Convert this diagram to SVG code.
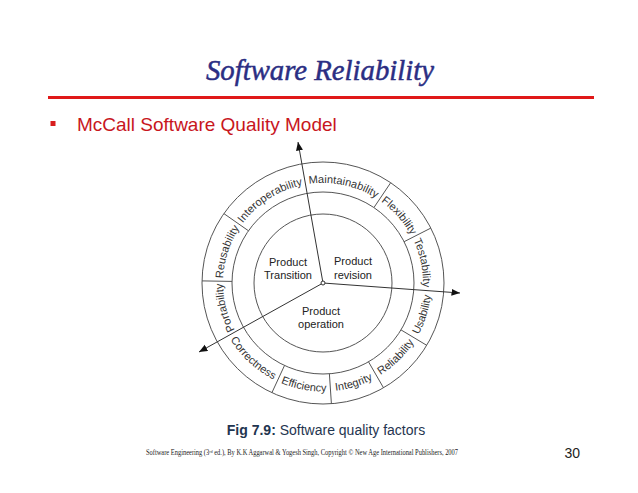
<svg xmlns="http://www.w3.org/2000/svg" width="638" height="493" viewBox="0 0 638 493">
<style>
.ring{fill:none;stroke:#555;stroke-width:1}
.div{stroke:#555;stroke-width:1}
.f{font-family:"Liberation Sans",Arial,sans-serif;font-size:11px;fill:#333}
.sec{font-family:"Liberation Sans",Arial,sans-serif;font-size:11px;fill:#222;text-anchor:middle}
.conn{stroke:#333;stroke-width:1;fill:none;marker-end:url(#ah)}
.foot{font-family:"Liberation Serif","DejaVu Serif",serif;font-size:7.3px;fill:#222}
</style>
<defs>
<marker id="ah" markerUnits="userSpaceOnUse" markerWidth="9" markerHeight="8" refX="8.5" refY="3.5" orient="auto">
<path d="M0,0 L8.5,3.5 L0,7 z" fill="#111"/>
</marker>
<path id="p-port" d="M235.8,331.9 A100,100 0 0 1 223.0,281.3"/>
<path id="p-reus" d="M223.0,281.3 A100,100 0 0 1 241.1,225.6"/>
<path id="p-inter" d="M241.1,225.6 A100,100 0 0 1 305.6,184.5"/>
<path id="p-maint" d="M305.6,184.5 A100,100 0 0 1 378.9,200.1"/>
<path id="p-flex" d="M378.9,200.1 A100,100 0 0 1 412.1,237.6"/>
<path id="p-test" d="M412.1,237.6 A100,100 0 0 1 422.8,290.0"/>
<path id="p-usab" d="M416.0,338.9 A108.5,108.5 0 0 0 431.2,290.6"/>
<path id="p-reli" d="M377.3,377.0 A108.5,108.5 0 0 0 416.0,338.9"/>
<path id="p-integ" d="M330.6,391.2 A108.5,108.5 0 0 0 377.3,377.0"/>
<path id="p-effic" d="M277.1,381.3 A108.5,108.5 0 0 0 330.6,391.2"/>
<path id="p-corr" d="M228.4,336.1 A108.5,108.5 0 0 0 277.1,381.3"/>
</defs>
<rect width="638" height="493" fill="#fff"/>

<g id="title">
<text x="320" y="80" text-anchor="middle" font-family="Liberation Serif, serif" font-style="italic" font-size="30" fill="#2B2E83" stroke="#2B2E83" stroke-width="0.5" textLength="228" lengthAdjust="spacingAndGlyphs">Software Reliability</text>
<line x1="48" y1="97.5" x2="594" y2="97.5" stroke="#E01818" stroke-width="3"/>
</g>

<g id="bullet">
<rect x="50.5" y="121" width="5" height="5" fill="#D81E1E"/>
<text x="77" y="130.5" font-family="Liberation Sans, Arial, sans-serif" font-size="19" fill="#C8161D">McCall Software Quality Model</text>
</g>

<g id="rings">
<circle class="ring" cx="323" cy="283" r="121"/>
<circle class="ring" cx="323" cy="283" r="91"/>
<circle class="ring" cx="323" cy="283" r="69"/>
</g>

<g id="dividers">
<line class="div" x1="373.9" y1="207.6" x2="390.7" y2="182.7"/>
<line class="div" x1="404.1" y1="241.7" x2="430.8" y2="228.1"/>
<line class="div" x1="401.0" y1="329.9" x2="426.7" y2="345.3"/>
<line class="div" x1="368.5" y1="361.8" x2="383.5" y2="387.8"/>
<line class="div" x1="329.4" y1="373.8" x2="331.4" y2="403.7"/>
<line class="div" x1="284.5" y1="365.5" x2="271.9" y2="392.7"/>
<line class="div" x1="232.0" y1="281.4" x2="202.0" y2="280.9"/>
<line class="div" x1="248.5" y1="230.8" x2="223.9" y2="213.6"/>
</g>

<g id="connectors">
<line class="conn" x1="323" y1="283" x2="298" y2="142"/>
<line class="conn" x1="323" y1="283" x2="460" y2="293"/>
<line class="conn" x1="323" y1="283" x2="199" y2="352"/>
<circle cx="323" cy="283" r="2" fill="#fff" stroke="#333" stroke-width="1"/>
</g>

<g id="product-transition">
<text class="sec" x="288" y="265.5">Product</text>
<text class="sec" x="288" y="279">Transition</text>
</g>
<g id="product-revision">
<text class="sec" x="353" y="265">Product</text>
<text class="sec" x="353" y="278.5">revision</text>
</g>
<g id="product-operation">
<text class="sec" x="321" y="315">Product</text>
<text class="sec" x="321" y="328">operation</text>
</g>

<g id="factor-portability"><text class="f"><textPath href="#p-port" startOffset="50%" text-anchor="middle">Portability</textPath></text></g>
<g id="factor-reusability"><text class="f"><textPath href="#p-reus" startOffset="50%" text-anchor="middle">Reusability</textPath></text></g>
<g id="factor-interoperability"><text class="f"><textPath href="#p-inter" startOffset="50%" text-anchor="middle">Interoperability</textPath></text></g>
<g id="factor-maintainability"><text class="f"><textPath href="#p-maint" startOffset="50%" text-anchor="middle">Maintainability</textPath></text></g>
<g id="factor-flexibility"><text class="f"><textPath href="#p-flex" startOffset="50%" text-anchor="middle">Flexibility</textPath></text></g>
<g id="factor-testability"><text class="f"><textPath href="#p-test" startOffset="50%" text-anchor="middle">Testability</textPath></text></g>
<g id="factor-usability"><text class="f"><textPath href="#p-usab" startOffset="50%" text-anchor="middle">Usability</textPath></text></g>
<g id="factor-reliability"><text class="f"><textPath href="#p-reli" startOffset="50%" text-anchor="middle">Reliability</textPath></text></g>
<g id="factor-integrity"><text class="f"><textPath href="#p-integ" startOffset="50%" text-anchor="middle">Integrity</textPath></text></g>
<g id="factor-efficiency"><text class="f"><textPath href="#p-effic" startOffset="50%" text-anchor="middle">Efficiency</textPath></text></g>
<g id="factor-correctness"><text class="f"><textPath href="#p-corr" startOffset="50%" text-anchor="middle">Correctness</textPath></text></g>

<g id="caption">
<text x="326" y="435" text-anchor="middle" font-family="Liberation Sans, Arial, sans-serif" font-size="14" fill="#1F3550"><tspan font-weight="bold">Fig 7.9:</tspan> Software quality factors</text>
</g>

<g id="footer">
<text class="foot" x="146" y="455" textLength="312" lengthAdjust="spacingAndGlyphs">Software Engineering (3ʳᵈ ed.), By K.K Aggarwal &amp; Yogesh Singh, Copyright © New Age International Publishers, 2007</text>
<text x="580" y="458" text-anchor="end" font-family="Liberation Sans, Arial, sans-serif" font-size="14" fill="#222">30</text>
</g>
</svg>
